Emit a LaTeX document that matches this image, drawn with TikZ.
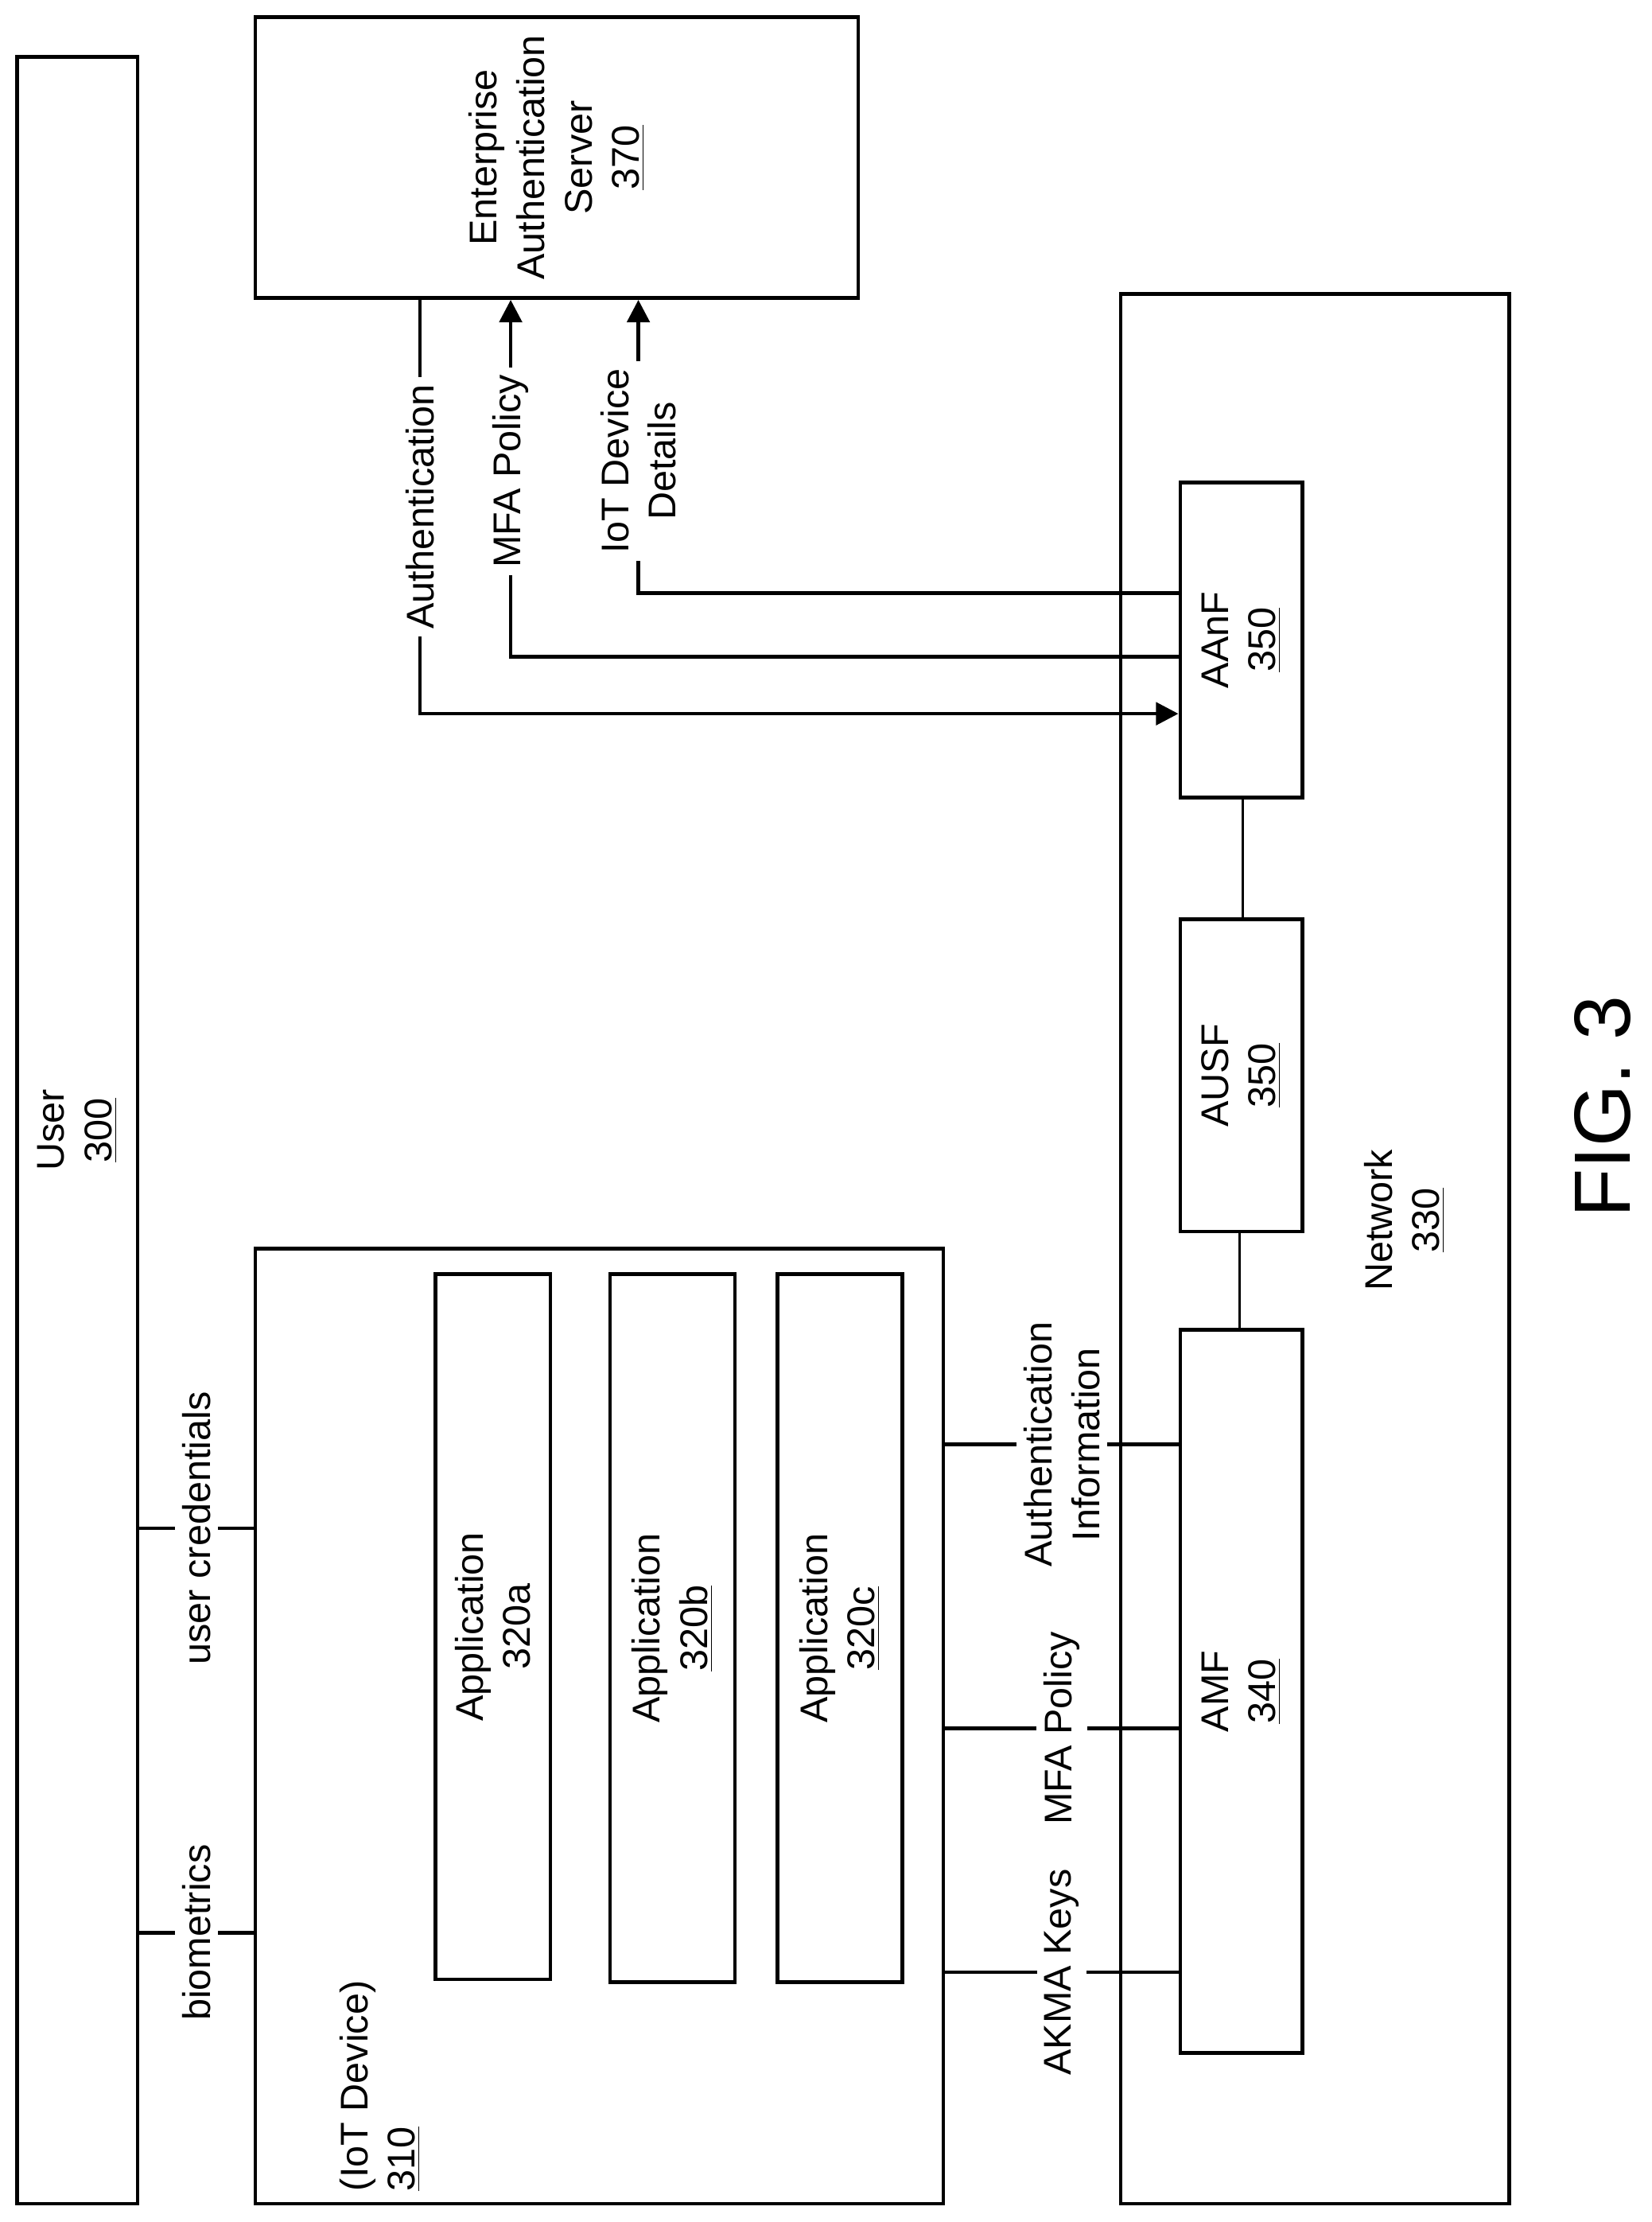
\documentclass[tikz,border=0pt]{standalone}
\usepackage{fontspec}
\setmainfont{Liberation Sans}
\usetikzlibrary{fit,arrows.meta}

\tikzset{
  box/.style={draw,line width=1.5pt,inner sep=0pt},
  lbl/.style={rotate=90,align=center,font=\fontsize{15.5}{19}\selectfont},
  gap/.style={lbl,fill=white,inner sep=3pt},
  wire/.style={line width=1.5pt},
  arr/.style={wire,-{Triangle[length=9pt,width=9pt]}}
}

\begin{document}
\begin{tikzpicture}[x=0.02cm,y=-0.02cm]
  \useasboundingbox (0,0) rectangle (1164,1566);

  % boxes
  \node[box,fit={(12,40)(97,1553)}] (user) {};
  \node[box,fit={(180,880)(665,1553)}] (iot) {};
  \node[box,fit={(307,898)(388,1395)}] (appa) {};
  \node[box,fit={(430,898)(518,1397)}] (appb) {};
  \node[box,fit={(548,898)(636,1397)}] (appc) {};
  \node[box,fit={(180,12)(605,210)}] (eas) {};
  \node[box,fit={(790,207)(1064,1553)}] (net) {};
  \node[box,fit={(832,937)(918,1447)}] (amf) {};
  \node[box,fit={(832,648)(918,868)}] (ausf) {};
  \node[box,fit={(832,340)(918,562)}] (aanf) {};

  % box labels
  \node[lbl] at (user.center) {User\\\underline{300}};
  \node[lbl,align=left] at (268,1470) {(IoT Device)\\\underline{310}};
  \node[lbl] at (appa.center) {Application\\320a};
  \node[lbl] at (appb.center) {Application\\\underline{320b}};
  \node[lbl] at (appc.center) {Application\\\underline{320c}};
  \node[lbl] at (eas.center) {Enterprise\\Authentication\\Server\\\underline{370}};
  \node[lbl] at (990,860) {Network\\\underline{330}};
  \node[lbl] at (amf.center) {AMF\\\underline{340}};
  \node[lbl] at (ausf.center) {AUSF\\\underline{350}};
  \node[lbl] at (aanf.center) {AAnF\\\underline{350}};
  \node[rotate=90,font=\fontsize{32}{36}\selectfont] (fig) at (1130,780) {FIG. 3};

  % user to device
  \draw[wire] (user.east |- 0,1077) -- node[gap]{user credentials} (iot.west |- 0,1077);
  \draw[wire] (user.east |- 0,1362) -- node[gap]{biometrics} (iot.west |- 0,1362);

  % device to AMF
  \draw[wire] (iot.east |- 0,1018) -- node[gap]{Authentication\\Information} (amf.west |- 0,1018);
  \draw[wire] (iot.east |- 0,1218) -- node[gap]{MFA Policy} (amf.west |- 0,1218);
  \draw[wire] (iot.east |- 0,1390) -- node[gap]{AKMA Keys} (amf.west |- 0,1390);

  % network functions
  \draw[wire,line width=1pt] (amf.north -| 874,0) -- (ausf.south -| 874,0);
  \draw[wire,line width=1pt] (ausf.north -| 876,0) -- (aanf.south -| 876,0);

  % server and AAnF
  \draw[arr] (eas.south -| 296,0) -- node[gap,pos=0.5]{Authentication} (296,503) -- (aanf.west |- 0,503);
  \draw[arr] (aanf.west |- 0,463) -- (360,463) -- node[gap,pos=0.52]{MFA Policy} (eas.south -| 360,0);
  \draw[arr] (aanf.west |- 0,418) -- (450,418) -- node[gap,pos=0.45]{IoT Device\\Details} (eas.south -| 450,0);
\end{tikzpicture}
\end{document}
